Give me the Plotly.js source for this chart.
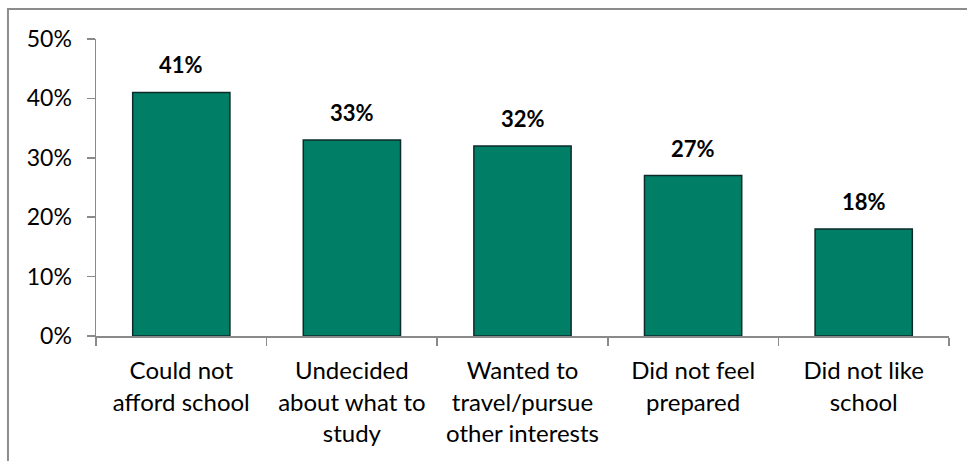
<!DOCTYPE html>
<html><head><meta charset="utf-8">
<script src="https://cdn.plot.ly/plotly-3.0.1.min.js"></script>
<style>html,body{margin:0;padding:0;background:#fff}</style>
</head><body>
<div id="chart" style="width:967px;height:461px"></div>
<script>
const categories = ["Could not<br>afford school", "Undecided<br>about what to<br>study", "Wanted to<br>travel/pursue<br>other interests", "Did not feel<br>prepared", "Did not like<br>school"];
const values = [41, 33, 32, 27, 18];
const yTicks = [0, 10, 20, 30, 40, 50];
const yTickLabels = ["0%", "10%", "20%", "30%", "40%", "50%"];

const FONT = "Lato, 'Open Sans', sans-serif";
const trace = {
  type: 'bar', x: categories, y: values,
  marker: {color: '#007F66', line: {color: '#0E2B2B', width: 1.5}},
  hoverinfo: 'none'
};
const annotations = values.map((v, i) => ({
  x: categories[i], y: v, xref: 'x', yref: 'y', text: v + '%', showarrow: false,
  yanchor: 'bottom', yshift: 12,
  font: {family: FONT, size: 22, color: '#000', weight: 'bold'}
}));
const layout = {
  width: 967, height: 461,
  margin: {l: 96, r: 18, t: 39, b: 125},
  paper_bgcolor: '#fff', plot_bgcolor: '#fff',
  bargap: 0.43, showlegend: false,
  font: {family: FONT, size: 23, color: '#000'},
  annotations: annotations,
  xaxis: {type: 'category', showline: true, linecolor: '#8A8A8A', linewidth: 1.5,
    ticks: 'outside', tickson: 'boundaries', ticklen: 8, tickcolor: '#8A8A8A', tickwidth: 1.5,
    showgrid: false, zeroline: false, tickfont: {family: FONT, size: 24, color: '#000'}, tickangle: 0,
    ticklabelstandoff: 13},
  yaxis: {range: [0, 50], tickvals: yTicks, ticktext: yTickLabels, showline: true,
    linecolor: '#8A8A8A', linewidth: 1.5, ticks: 'outside', ticklen: 8, tickcolor: '#8A8A8A', tickwidth: 1.5,
    showgrid: false, zeroline: false, tickfont: {family: FONT, size: 23, color: '#000'},
    ticklabelstandoff: 10},
  shapes: [{type: 'rect', xref: 'paper', yref: 'paper', x0: -0.1032, x1: 1.2, y0: -0.6, y1: 1.101,
    line: {color: '#8C8C8C', width: 2}, fillcolor: 'rgba(0,0,0,0)', layer: 'below'}]
};
Plotly.newPlot('chart', [trace], layout, {displayModeBar: false, staticPlot: true});
</script>
</body></html>
